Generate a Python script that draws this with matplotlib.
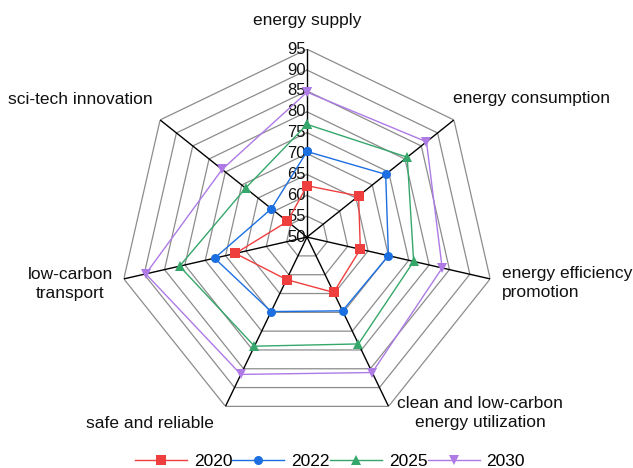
import numpy as np
import matplotlib
matplotlib.use("Agg")
import matplotlib.pyplot as plt

plt.rcParams['font.family'] = ['Liberation Sans', 'DejaVu Sans']

categories = ["energy supply", "energy consumption", "energy efficiency\npromotion",
              "clean and low-carbon\nenergy utilization", "safe and reliable",
              "low-carbon\ntransport", "sci-tech innovation"]
years = ["2020", "2022", "2025", "2030"]
v2020 = [62.3, 65.8, 63.1, 64.7, 61.3, 67.6, 56.0]
v2022 = [70.5, 74.1, 70.0, 69.6, 69.8, 72.7, 60.9]
v2025 = [77.0, 80.7, 76.2, 78.4, 79.0, 81.3, 68.8]
v2030 = [84.7, 86.6, 83.2, 86.0, 86.5, 89.6, 76.0]
levels = [50, 55, 60, 65, 70, 75, 80, 85, 90, 95]

series = [v2020, v2022, v2025, v2030]
colors = ["#ef3e3e", "#1c6fe0", "#35a76a", "#ad7ae6"]
markers = ["s", "o", "^", "v"]

fig = plt.figure(figsize=(6.33, 4.68), dpi=100)
ax = fig.add_axes([0.188, 0.0919, 0.594, 0.803], projection="polar")
ax.set_theta_zero_location("N")
ax.set_theta_direction(-1)
ax.set_ylim(levels[0], levels[-1])
ax.axis("off")

n = len(categories)
theta = np.arange(n) * 2 * np.pi / n
theta_c = np.append(theta, theta[0])

# polygonal grid rings
for lv in levels[1:]:
    ax.plot(theta_c, [lv] * (n + 1), color="#8c8c8c", lw=0.9, zorder=1)
# spokes
for t in theta:
    ax.plot([t, t], [levels[0], levels[-1]], color="black", lw=1.0, zorder=2)

# radial tick labels along the top spoke
for lv in levels:
    ax.annotate(str(lv), xy=(0, lv), xytext=(-1, 0), textcoords="offset points",
                ha="right", va="center", fontsize=12, color="#111111", zorder=3)

handles = []
for vals, c, m, lab in zip(series, colors, markers, years):
    h, = ax.plot(theta_c, vals + vals[:1], color=c, lw=1.0, marker=m,
                 markersize=6.5, markeredgewidth=0, label=lab, zorder=4)
    handles.append(h)

# category labels
label_pos = [
    (307, 20, "center", "center"),
    (453, 98, "left", "center"),
    (502, 283, "left", "center"),
    (480, 413, "center", "center"),
    (150, 424, "center", "center"),
    (113, 284, "right", "center"),
    (80, 99, "center", "center"),
]
for cat, (x, y, ha, va) in zip(categories, label_pos):
    fig.text(x / 633, 1 - y / 468, cat, ha=ha, va=va, fontsize=12.5,
             color="#111111", linespacing=1.35,
             multialignment="center" if ha != "left" else "left")

fig.legend(handles=handles, loc="center", bbox_to_anchor=(330 / 633, 1 - 461 / 468),
           ncol=4, frameon=False, fontsize=12.5, handlelength=3.0,
           handletextpad=0.4, columnspacing=0.0, borderpad=0)

fig.savefig("out.png", dpi=100)
